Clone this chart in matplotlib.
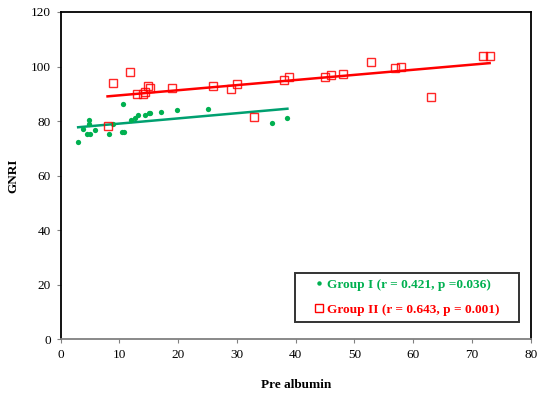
import numpy as np
import matplotlib
matplotlib.use("Agg")
import matplotlib.pyplot as plt
from matplotlib.lines import Line2D
from matplotlib.patches import Rectangle

plt.rcParams['font.family'] = ['Liberation Serif', 'DejaVu Serif']

# Group I (pre albumin vs GNRI)
g1_x = [3.0, 3.9, 4.5, 5.0, 4.85, 4.9, 5.9, 8.25, 9.0, 10.4, 10.75, 10.7,
        12.0, 12.7, 13.2, 14.4, 15.05, 15.3, 17.1, 19.9, 25.1, 36.0, 38.6]
g1_y = [72.4, 77.0, 75.2, 75.2, 80.4, 78.8, 76.6, 75.2, 78.8, 75.9, 76.1, 86.2,
        80.5, 81.3, 82.1, 82.1, 83.1, 83.1, 83.3, 84.0, 84.3, 79.4, 81.3]

# Group II
g2_x = [8.0, 9.0, 11.9, 13.0, 14.0, 14.3, 14.8, 15.2, 19.0, 26.0, 29.0, 30.0,
        33.0, 38.0, 38.9, 45.0, 46.0, 48.0, 52.9, 56.9, 57.9, 63.1, 71.9, 73.0]
g2_y = [78.2, 93.9, 97.9, 89.8, 89.8, 90.8, 93.0, 92.0, 92.0, 92.9, 91.8, 93.5,
        81.6, 95.1, 96.1, 96.0, 97.0, 97.3, 101.8, 99.5, 100.0, 89.0, 104.0, 104.0]

g1_label = "Group I (r = 0.421, p =0.036)"
g2_label = "Group II (r = 0.643, p = 0.001)"

x_ticks = [0, 10, 20, 30, 40, 50, 60, 70, 80]
y_ticks = [0, 20, 40, 60, 80, 100, 120]

green = "#00B050"
green_line = "#00A070"
red = "#FF0000"

fig = plt.figure(figsize=(5.37, 3.97), dpi=100)
ax = fig.add_axes([0.1127, 0.1453, 0.8757, 0.8245])

ax.plot(g1_x, g1_y, 'o', color=green, markersize=3.8, markeredgewidth=0, zorder=3)
ax.plot(g2_x, g2_y, 's', markerfacecolor='none', markeredgecolor=red,
        markersize=5.6, markeredgewidth=1.0, alpha=0.85, zorder=3)

# least-squares trend lines over each group's range
for xs, ys, col in ((g1_x, g1_y, green_line), (g2_x, g2_y, red)):
    xs = np.asarray(xs); ys = np.asarray(ys)
    k, b = np.polyfit(xs, ys, 1)
    xl = np.array([xs.min(), xs.max()])
    ax.plot(xl, k * xl + b, '-', color=col, linewidth=1.8, zorder=2)

ax.set_xlim(0, 80)
ax.set_ylim(0, 120)
ax.set_xticks(x_ticks)
ax.set_yticks(y_ticks)
ax.tick_params(axis='both', direction='out', length=3, width=0.8, color='#808080',
               labelsize=9.5, pad=4)
for s in ax.spines.values():
    s.set_color('black')
    s.set_linewidth(1.3)
ax.spines['bottom'].set_color('#808080')

ax.set_xlabel("Pre albumin", fontsize=9.5, fontweight='bold', labelpad=13)
ax.set_ylabel("GNRI", fontsize=9.5, fontweight='bold', labelpad=8)

# legend box
ax.add_patch(Rectangle((0.499, 0.054), 0.477, 0.1477, transform=ax.transAxes,
                       facecolor='white', edgecolor='#333333', linewidth=1.4,
                       zorder=4))
handles = [Line2D([], [], marker='o', linestyle='none', color=green, markersize=3.2,
                  markeredgewidth=0),
           Line2D([], [], marker='s', linestyle='none', markerfacecolor='none',
                  markeredgecolor=red, markersize=6, markeredgewidth=1.0)]
leg = ax.legend(handles, [g1_label, g2_label], loc='center',
                bbox_to_anchor=(0.737, 0.128), frameon=False,
                handlelength=0.6, handletextpad=0.3,
                borderpad=0, labelspacing=0.95, borderaxespad=0,
                prop={'size': 9.6, 'weight': 'bold'})
leg.set_zorder(5)
leg.get_texts()[0].set_color(green)
leg.get_texts()[1].set_color(red)

fig.savefig("out.png", dpi=100)
